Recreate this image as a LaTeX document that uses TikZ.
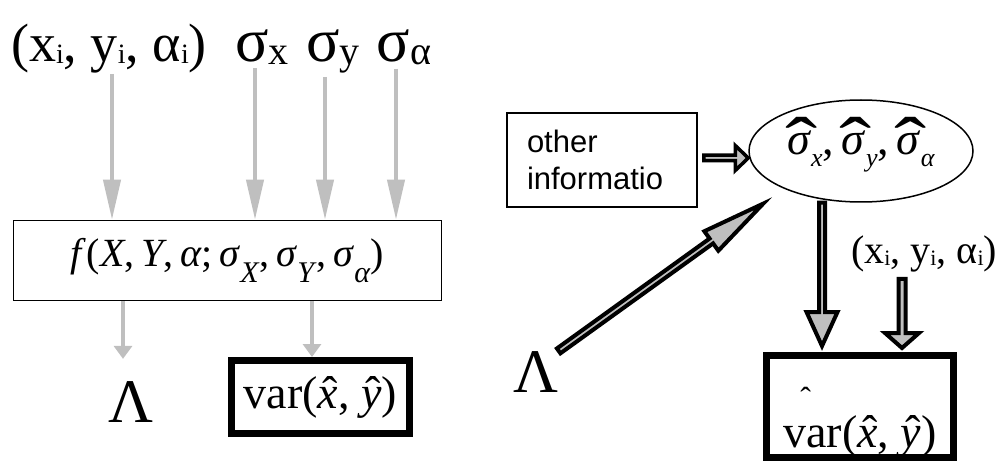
\documentclass[tikz,border=0pt]{standalone}
\usepackage{fontspec}
\usepackage{graphicx}
\setmainfont{Liberation Serif}
\newfontfamily\arialf{Liberation Sans}
\usetikzlibrary{arrows.meta,calc,shapes.geometric}

% font size in pt (1pt = 1px of the picture)
\newcommand\fs[1]{\fontsize{#1}{#1}\selectfont}
% lowered, smaller text: shift, size, text
\newcommand\lo[3]{\raisebox{-#1pt}{\fs{#2}#3}}
% hat over a letter: kern, letter
\newcommand\hatit[2]{\ooalign{#2\cr\hidewidth\kern#1ˆ\hidewidth\cr}}
\newcommand\hatsig{\ooalign{\textit{σ}\cr\hidewidth\kern4pt\raisebox{-14pt}{\scalebox{2.1}[1.6]{ˆ}}\hidewidth\cr}}

% outlined block arrow: [stroke] start, end, shaft half, head length, head half
\newcommand\fatarrow[6][4pt]{%
  \coordinate (hb) at ($(#3)!#5!(#2)$);
  \draw[fatarr, line width=#1]
    ($(#2)!#4!90:(#3)$) -- ($(hb)!#4!90:(#3)$) -- ($(hb)!#6!90:(#3)$) -- (#3)
    -- ($(hb)!#6!-90:(#3)$) -- ($(hb)!#4!-90:(#3)$) -- ($(#2)!#4!-90:(#3)$) -- cycle;}

\tikzset{
  grayarrow/.style={draw=black!25, line width=4pt},
  uptip/.style={-{Triangle[length=40pt, width=17pt]}},
  lowtip/.style={-{Triangle[length=13pt, width=18pt]}},
  lab/.style={inner sep=0pt, anchor=base},
  thinbox/.style={draw, line width=1.5pt, inner sep=0pt},
  fatbox/.style={draw, line width=7pt, inner sep=0pt},
  fatarr/.style={draw=black, fill=black!25, line join=miter},
}

\begin{document}
\begin{tikzpicture}[x=1pt, y=-1pt]
  \useasboundingbox (0,0) rectangle (1008,462);

  % left: inputs
  \node[lab, font=\fs{54}] (xy1) at (109,62) {(x\lo{2}{28}{i}, y\lo{2}{28}{i}, α\lo{2}{28}{i})};
  \node[lab, font=\fs{62}] (sx) at (262,62) {σ\lo{3}{40}{x}};
  \node[lab, font=\fs{62}] (sy) at (333,62) {σ\lo{3}{40}{y}};
  \node[lab, font=\fs{62}] (sa) at (404,62) {σ\lo{3}{40}{α}};

  % left: model box and outputs
  \node[thinbox, minimum width=428pt, minimum height=80pt, font=\fs{40}] (fbox) at (227.5,260.5)
    {\textit{f}(\textit{X},\,\textit{Y},\,\textit{α};\,\textit{σ}\lo{16}{30}{\textit{X}},\,\textit{σ}\lo{16}{30}{\textit{Y}},\,\textit{σ}\lo{16}{30}{\textit{α}})};
  \node[lab, font=\fs{62}] (lam1) at (131,422) {Λ};
  \node[fatbox, minimum width=178pt, minimum height=73pt, font=\fs{46}] (var1) at (320.5,397)
    {var(\hatit{4pt}{\textit{x}}, \hatit{4pt}{\textit{y}})};

  \coordinate (c1) at (112,0);
  \coordinate (c2) at (255,0);
  \coordinate (c3) at (325,0);
  \coordinate (c4) at (396,0);
  \coordinate (c5) at (123,0);
  \coordinate (c6) at (312,0);
  \draw[grayarrow, uptip] (xy1.south -| c1) -- (fbox.north -| c1);
  \draw[grayarrow, uptip, shorten <=3pt] (sx.south -| c2) -- (fbox.north -| c2);
  \draw[grayarrow, uptip, shorten <=3pt] (sy.south -| c3) -- (fbox.north -| c3);
  \draw[grayarrow, uptip, shorten <=3pt] (sa.south -| c4) -- (fbox.north -| c4);
  \draw[grayarrow, lowtip, shorten >=22pt] (fbox.south -| c5) -- (lam1.north -| c5);
  \draw[grayarrow, lowtip] (fbox.south -| c6) -- (var1.north -| c6);

  % right: estimation
  \node[thinbox, minimum width=190pt, minimum height=94pt, text width=150pt, align=left,
    font=\arialf\fontsize{31}{37}\selectfont] (oth) at (602,160) {other\\informatio};
  \node[draw, ellipse, line width=1.5pt, minimum width=224pt, minimum height=102pt, inner sep=0pt,
    font=\fs{46}] (ell) at (861,151)
    {\hatsig\lo{12}{26}{\textit{x}},\,\hatsig\lo{12}{26}{\textit{y}},\,\hatsig\lo{12}{26}{\textit{α}}};
  \node[lab, font=\fs{40}] (xy2) at (924,263) {(x\lo{2}{22}{i}, y\lo{2}{22}{i}, α\lo{2}{22}{i})};
  \node[lab, font=\fs{62}] (lam2) at (536,392) {Λ};
  \node[fatbox, minimum width=187pt, minimum height=102pt, font=\fs{46}] (var2) at (860,406.5)
    {\raisebox{-16pt}[\height][\depth]{\rlap{\kern17pt\raisebox{38pt}{\fs{32}ˆ}}var(\hatit{4pt}{\textit{x}}, \hatit{4pt}{\textit{y}})}};

  \coordinate (a1s) at ($(oth.east)+(6,-2)$);
  \coordinate (a1e) at (ell.west |- a1s);
  \coordinate (a2s) at (lam2.north east);
  \coordinate (a2e) at ($(ell.south west)+(-18,16)$);
  \coordinate (a3s) at ($(ell.south)+(-39,0)$);
  \coordinate (a3e) at ($(var2.north -| a3s)+(0,-6)$);
  \coordinate (a4s) at ($(xy2.south)+(-22,7)$);
  \coordinate (a4e) at ($(var2.north -| a4s)+(0,-4)$);
  \fatarrow[3.5pt]{a1s}{a1e}{2.75pt}{13pt}{12.5pt}
  \fatarrow{a2s}{a2e}{3pt}{64pt}{12pt}
  \fatarrow{a3s}{a3e}{3pt}{34pt}{15.5pt}
  \fatarrow{a4s}{a4e}{3.5pt}{15pt}{17pt}
\end{tikzpicture}
\end{document}
